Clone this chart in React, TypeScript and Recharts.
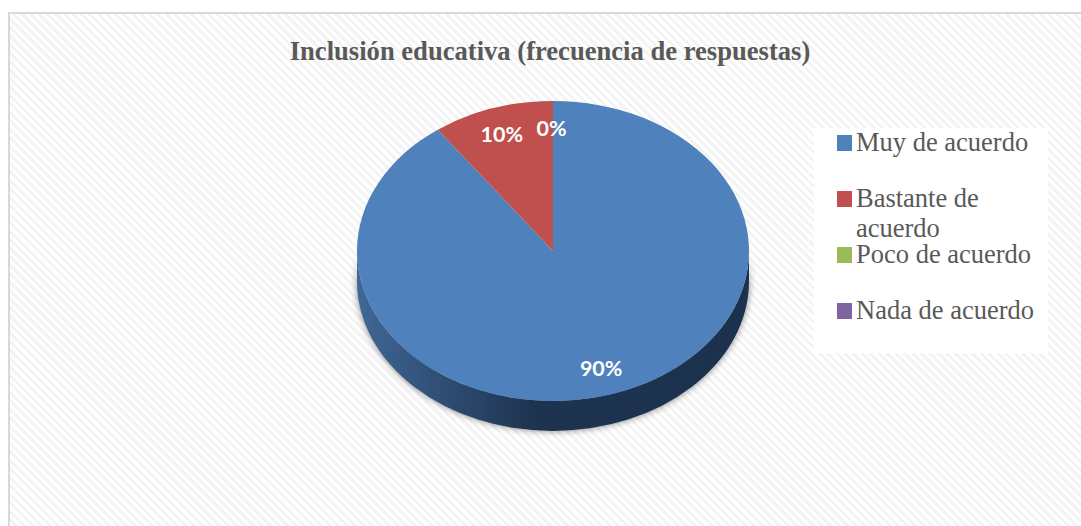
import { Legend, Pie, PieChart } from 'recharts';

const TITLE = 'Inclusión educativa (frecuencia de respuestas)';
const CATEGORIES = ['Muy de acuerdo', 'Bastante de acuerdo', 'Poco de acuerdo', 'Nada de acuerdo'];
const VALUES = [90, 10, 0, 0];
const COLORS = ['#4f81bd', '#c0504d', '#9bbb59', '#8064a2'];

const data = CATEGORIES.map((name, i) => ({ name, value: VALUES[i], fill: COLORS[i] }));

const RADIAN = Math.PI / 180;
const SQUASH = 150 / 196; // tilt of the pie: vertical radius over horizontal radius
const DEPTH = 30;

function pointAt(cx: number, cy: number, r: number, angle: number) {
  return [cx + r * Math.cos(angle * RADIAN), cy - r * SQUASH * Math.sin(angle * RADIAN)];
}

// Recharts gives the angles, we only flatten the circle into an ellipse and add the side wall
function TiltedSlice(props: any) {
  const { cx, cy, outerRadius: r, startAngle, endAngle, fill } = props;
  if (startAngle === endAngle) return null;
  const ry = r * SQUASH;
  const [x0, y0] = pointAt(cx, cy, r, startAngle);
  const [x1, y1] = pointAt(cx, cy, r, endAngle);
  const large = Math.abs(startAngle - endAngle) > 180 ? 1 : 0;
  const top = `M${cx},${cy} L${x0},${y0} A${r},${ry} 0 ${large} 1 ${x1},${y1} Z`;

  const wallFrom = Math.min(startAngle, 0);
  const wallTo = Math.max(endAngle, -180);
  let wall = null;
  if (wallFrom > wallTo) {
    const [ax, ay] = pointAt(cx, cy, r, wallFrom);
    const [bx, by] = pointAt(cx, cy, r, wallTo);
    const d = `M${ax},${ay} A${r},${ry} 0 0 1 ${bx},${by} L${bx},${by + DEPTH} A${r},${ry} 0 0 0 ${ax},${ay + DEPTH} Z`;
    wall = (
      <g>
        <path d={d} fill="#000" opacity={0.5} filter="url(#pieShadow)" />
        <path d={d} fill="url(#pieWall)" />
      </g>
    );
  }
  return (
    <g>
      {wall}
      <path d={top} fill={fill} />
    </g>
  );
}

function SliceLabel(props: any) {
  const { cx, cy, midAngle, outerRadius, index, value } = props;
  if (index === 3) return null; // same spot as the other 0%
  const [x, y] = pointAt(cx, cy, outerRadius * 0.82, midAngle);
  return (
    <text x={x - 1.5} y={y} textAnchor="middle" dominantBaseline="central" fill="#fff"
      fontFamily="Lato" fontWeight={700} fontSize={21.5}>
      {`${value}%`}
    </text>
  );
}

function LegendBox({ payload }: any) {
  return (
    <div style={{ fontFamily: '"Liberation Serif"', fontSize: 26.5, lineHeight: '30px', color: '#595959', marginTop: -1 }}>
      {(payload ?? []).map((entry: any) => (
        <div key={entry.value} style={{ height: 56, display: 'flex', alignItems: 'flex-start' }}>
          <span style={{ width: 15, height: 16, marginLeft: 23, marginTop: 8, marginRight: 4, background: entry.color, flex: 'none' }} />
          <span style={{ width: 190 }}>{entry.value}</span>
        </div>
      ))}
    </div>
  );
}

export default function App() {
  return (
    <div style={{ position: 'absolute', left: 0, top: 0, width: 1081, height: 526, background: '#fff', overflow: 'hidden' }}>
      <div
        style={{
          position: 'absolute',
          left: 8,
          top: 12,
          width: 1073,
          height: 514,
          boxSizing: 'border-box',
          borderTop: '2px solid #d9d9d9',
          borderLeft: '2px solid #d9d9d9',
          background: 'repeating-linear-gradient(45deg, #ffffff 0 3px, #f4f4f4 3px 6px)',
        }}
      />
      <div style={{ position: 'absolute', left: 0, top: 0 }}>
        <PieChart width={1081} height={526} margin={{ top: 0, right: 0, bottom: 0, left: 0 }}>
          <defs>
            <linearGradient id="pieWall" gradientUnits="userSpaceOnUse" x1={357} y1={0} x2={749} y2={0}>
              <stop offset="0" stopColor="#3f6797" />
              <stop offset="0.25" stopColor="#2c4a6f" />
              <stop offset="0.45" stopColor="#1e3350" />
              <stop offset="1" stopColor="#1c314d" />
            </linearGradient>
            <filter id="pieShadow" x="-10%" y="-20%" width="120%" height="140%">
              <feGaussianBlur stdDeviation="3.5" />
            </filter>
          </defs>
          <text x={550} y={51} textAnchor="middle" dominantBaseline="central"
            fontFamily="Liberation Serif" fontWeight={700} fontSize={26.6} fill="#595959">
            {TITLE}
          </text>
          <Pie
            data={data}
            dataKey="value"
            nameKey="name"
            cx={553}
            cy={251}
            innerRadius={0}
            outerRadius={196}
            startAngle={90}
            endAngle={-270}
            stroke="none"
            shape={TiltedSlice}
            label={SliceLabel}
            labelLine={false}
            isAnimationActive={false}
          />
          <Legend
            content={<LegendBox />}
            itemSorter={null}
            wrapperStyle={{ position: 'absolute', left: 814, top: 128, width: 234, height: 225, background: '#fff' }}
          />
        </PieChart>
      </div>
    </div>
  );
}
